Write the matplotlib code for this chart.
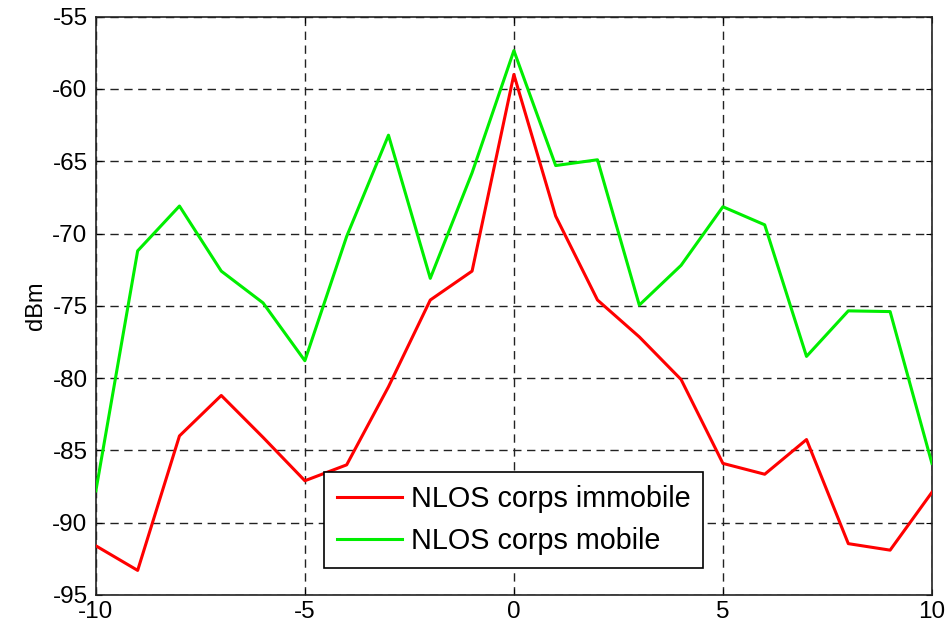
import matplotlib
matplotlib.use("Agg")
import matplotlib.pyplot as plt
import numpy as np

x = list(range(-10, 11))
immobile = [-91.6, -93.3, -84.0, -81.2, -84.1, -87.1, -86.0, -80.6, -74.6, -72.6,
            -59.0, -68.8, -74.6, -77.15, -80.1, -85.9, -86.65, -84.25, -91.45, -91.9, -87.9]
mobile = [-87.8, -71.2, -68.1, -72.6, -74.8, -78.8, -70.2, -63.2, -73.1, -65.8,
          -57.35, -65.3, -64.9, -74.95, -72.2, -68.15, -69.4, -78.5, -75.35, -75.4, -85.9]
labels = ["NLOS corps immobile", "NLOS corps mobile"]
xticks = [-10, -5, 0, 5, 10]
yticks = [-95, -90, -85, -80, -75, -70, -65, -60, -55]

plt.rcParams['font.family'] = ['Liberation Sans', 'DejaVu Sans']
plt.rcParams['axes.unicode_minus'] = False

fig = plt.figure(figsize=(9.49, 6.30), dpi=100)
ax = fig.add_axes([0.101, 0.0556, 0.881, 0.918])

ax.plot(x, immobile, color='#ff0000', lw=2.2, label=labels[0], zorder=3)
ax.plot(x, mobile, color='#00ee00', lw=2.2, label=labels[1], zorder=3)

ax.set_xlim(-10, 10)
ax.set_ylim(-95, -55)
ax.set_xticks(xticks)
ax.set_yticks(yticks)
ax.grid(True, color='#222222', linestyle=(0, (6, 4)), linewidth=1.0)
ax.tick_params(direction='in', top=True, right=True, length=4, labelsize=17.5)
ax.tick_params(axis='y', pad=6)
ax.tick_params(axis='x', pad=4)
for s in ax.spines.values():
    s.set_linewidth(1.2)
    s.set_color('#222222')
ax.set_ylabel('dBm', fontsize=17, labelpad=4)

leg = ax.legend(loc='lower center', bbox_to_anchor=(0.5, 0.046), fontsize=20.7,
                frameon=True, fancybox=False, framealpha=1, edgecolor='black',
                handlelength=2.25, handletextpad=0.3, borderpad=0.45, labelspacing=0.5,
                borderaxespad=0)
leg.get_frame().set_linewidth(1.2)

fig.savefig('out.png', dpi=100)
